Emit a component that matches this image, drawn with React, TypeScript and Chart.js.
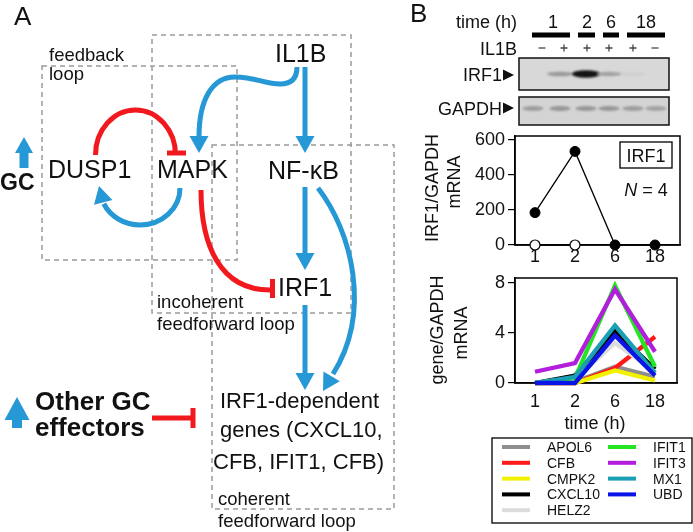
import React, { useEffect, useRef } from 'react';
import { Chart, registerables } from 'chart.js';
Chart.register(...registerables);

const FONT = '"Liberation Sans", Arial, Helvetica, sans-serif';

// ---------------- data ----------------
const timeLabels = ['1', '2', '6', '18'];
const irf1WithIL1B = [185, 535, 0, 0];
const irf1Control = [0, 0];
const irf1Ticks = [0, 200, 400, 600];
const irf1N = 4;

const geneNames = ['APOL6', 'CFB', 'CMPK2', 'CXCL10', 'HELZ2', 'IFIT1', 'IFIT3', 'MX1', 'UBD'];
const geneColors = ['#8e8e8e', '#ff1a1a', '#f2f200', '#000000', '#dcdcdc', '#22e622', '#b21fdc', '#1b9fb5', '#0a14e6'];
const apol6 = [0, 0.1, 1.3, 0.5];
const cfb = [0, 0, 1.2, 3.7];
const cmpk2 = [0, 0, 1.0, 0.2];
const cxcl10 = [0, 0.6, 4.2, 1.1];
const helz2 = [0, 0.3, 3.2, 0.9];
const ifit1 = [0, 0.4, 7.8, 1.3];
const ifit3 = [0.9, 1.6, 7.5, 2.5];
const mx1 = [0, 0.5, 4.6, 0.8];
const ubd = [0, 0, 3.8, 0.6];
const geneSeries = [apol6, cfb, cmpk2, cxcl10, helz2, ifit1, ifit3, mx1, ubd];
const geneTicks = [0, 4, 8];

const blotTimes = ['1', '2', '6', '18'];
const blotIL1B = ['-', '+', '+', '+', '+', '-'];
const irf1BandIntensity = [0, 0.32, 1, 0.28, 0.05, 0];
const gapdhBandIntensity = [0.55, 0.6, 0.6, 0.6, 0.55, 0.5];

// ---------------- drawing helpers ----------------
const BLUE = '#2798d6';
const RED = '#f2191e';

type TxtOpts = { bold?: boolean; italic?: boolean; align?: CanvasTextAlign; color?: string };
function txt(ctx: CanvasRenderingContext2D, s: string, x: number, y: number, size: number, o: TxtOpts = {}) {
  ctx.font = `${o.italic ? 'italic ' : ''}${o.bold ? 'bold ' : ''}${size}px ${FONT}`;
  ctx.fillStyle = o.color || '#111';
  ctx.textAlign = o.align || 'left';
  ctx.textBaseline = 'alphabetic';
  ctx.fillText(s, x, y);
}

function head(ctx: CanvasRenderingContext2D, tx: number, ty: number, ang: number, len = 17, w = 19, color = BLUE) {
  ctx.save();
  ctx.translate(tx, ty);
  ctx.rotate(ang);
  ctx.beginPath();
  ctx.moveTo(0, 0);
  ctx.lineTo(-len, -w / 2);
  ctx.lineTo(-len, w / 2);
  ctx.closePath();
  ctx.fillStyle = color;
  ctx.fill();
  ctx.restore();
}

function upArrow(ctx: CanvasRenderingContext2D, cx: number, tipY: number, baseY: number, halfW: number, stemHalf: number, stemBottom: number) {
  ctx.beginPath();
  ctx.moveTo(cx, tipY);
  ctx.lineTo(cx + halfW, baseY);
  ctx.lineTo(cx + stemHalf, baseY);
  ctx.lineTo(cx + stemHalf, stemBottom);
  ctx.lineTo(cx - stemHalf, stemBottom);
  ctx.lineTo(cx - stemHalf, baseY);
  ctx.lineTo(cx - halfW, baseY);
  ctx.closePath();
  ctx.fillStyle = BLUE;
  ctx.fill();
}

function dashedBox(ctx: CanvasRenderingContext2D, x0: number, y0: number, x1: number, y1: number) {
  ctx.save();
  ctx.strokeStyle = '#9a9a9a';
  ctx.lineWidth = 1.5;
  ctx.setLineDash([5, 4]);
  ctx.strokeRect(x0, y0, x1 - x0, y1 - y0);
  ctx.restore();
}

function drawPanelA(ctx: CanvasRenderingContext2D) {
  txt(ctx, 'A', 14, 25, 26);

  dashedBox(ctx, 42, 66, 237, 260);
  dashedBox(ctx, 152, 35, 351, 313);
  dashedBox(ctx, 212, 145, 394, 509);

  txt(ctx, 'feedback', 49, 61, 18.5);
  txt(ctx, 'loop', 49, 80, 18.5);

  txt(ctx, 'IL1B', 275, 62, 25);
  txt(ctx, 'DUSP1', 48, 178, 25);
  txt(ctx, 'MAPK', 157, 178, 25);
  txt(ctx, 'NF-\u03BAB', 268, 179, 25);
  txt(ctx, 'IRF1', 278, 296, 25);

  txt(ctx, 'incoherent', 157, 308, 18.5);
  txt(ctx, 'feedforward loop', 157, 330, 18.5);

  txt(ctx, 'IRF1-dependent', 220, 408, 22);
  txt(ctx, 'genes (CXCL10,', 220, 437, 22);
  txt(ctx, 'CFB, IFIT1, CFB)', 213, 469, 22);
  txt(ctx, 'coherent', 218, 505, 18.5);
  txt(ctx, 'feedforward loop', 218, 527, 18.5);

  txt(ctx, 'GC', 0, 190, 23, { bold: true });
  upArrow(ctx, 24, 137, 153, 9, 4.5, 168);

  txt(ctx, 'Other GC', 35, 410, 26, { bold: true });
  txt(ctx, 'effectors', 35, 436, 26, { bold: true });
  upArrow(ctx, 17, 397, 420, 12.5, 5, 428);

  ctx.save();
  ctx.lineCap = 'butt';
  ctx.lineWidth = 5;

  // red DUSP1 -| MAPK
  ctx.strokeStyle = RED;
  ctx.beginPath();
  ctx.ellipse(135.5, 155, 40, 45, 0, Math.PI, 2 * Math.PI);
  ctx.stroke();
  ctx.beginPath();
  ctx.moveTo(167, 153);
  ctx.lineTo(186, 153);
  ctx.stroke();

  // red MAPK -| IRF1
  ctx.beginPath();
  ctx.moveTo(201, 190);
  ctx.bezierCurveTo(201, 245, 220, 290, 270, 290);
  ctx.stroke();
  ctx.beginPath();
  ctx.moveTo(272.5, 279);
  ctx.lineTo(272.5, 298);
  ctx.stroke();

  // red other GC effectors -| genes
  ctx.beginPath();
  ctx.moveTo(152, 418);
  ctx.lineTo(193, 418);
  ctx.stroke();
  ctx.beginPath();
  ctx.moveTo(193, 408);
  ctx.lineTo(193, 428);
  ctx.stroke();

  // blue MAPK -> DUSP1
  ctx.strokeStyle = BLUE;
  ctx.beginPath();
  ctx.ellipse(140, 188, 40, 37, 0, 0, Math.PI * 0.86);
  ctx.stroke();
  head(ctx, 99, 186, -Math.PI * 0.58);

  // blue IL1B -> MAPK
  ctx.beginPath();
  ctx.moveTo(297, 67);
  ctx.quadraticCurveTo(297, 84, 280, 84);
  ctx.bezierCurveTo(265, 84, 255, 77, 235, 77);
  ctx.bezierCurveTo(212, 77, 199, 100, 199, 137);
  ctx.stroke();
  head(ctx, 199, 153, Math.PI / 2);

  // blue IL1B -> NF-kB
  ctx.beginPath();
  ctx.moveTo(305, 67);
  ctx.lineTo(305, 137);
  ctx.stroke();
  head(ctx, 305, 153, Math.PI / 2);

  // NF-kB -> IRF1
  ctx.beginPath();
  ctx.moveTo(305, 187);
  ctx.lineTo(305, 254);
  ctx.stroke();
  head(ctx, 305, 270, Math.PI / 2);

  // IRF1 -> genes
  ctx.beginPath();
  ctx.moveTo(305, 305);
  ctx.lineTo(305, 374);
  ctx.stroke();
  head(ctx, 305, 390, Math.PI / 2);

  // NF-kB -> genes (curved)
  ctx.beginPath();
  ctx.moveTo(318, 188);
  ctx.bezierCurveTo(352, 232, 372, 312, 333, 374);
  ctx.stroke();
  head(ctx, 323, 391, Math.atan2(391 - 374, 323 - 333));
  ctx.restore();
}

function drawBlot(ctx: CanvasRenderingContext2D) {
  txt(ctx, 'B', 410, 22, 26);
  txt(ctx, 'time (h)', 517, 28, 18, { align: 'right' });
  const groupX = [553, 587, 611, 646];
  blotTimes.forEach((t, i) => txt(ctx, t, groupX[i], 28, 18, { align: 'center' }));
  const bars = [[532, 570], [578, 595], [603, 619], [627, 665]];
  ctx.fillStyle = '#000';
  bars.forEach(([a, b]) => ctx.fillRect(a, 32.5, b - a, 5));

  txt(ctx, 'IL1B', 517, 55, 18, { align: 'right' });
  const signX = [542, 564, 587, 609, 633, 655];
  ctx.save();
  ctx.strokeStyle = '#444';
  ctx.lineWidth = 1.3;
  blotIL1B.forEach((s, i) => {
    const x = signX[i];
    ctx.beginPath();
    ctx.moveTo(x - 3.5, 48);
    ctx.lineTo(x + 3.5, 48);
    if (s === '+') {
      ctx.moveTo(x, 44.5);
      ctx.lineTo(x, 51.5);
    }
    ctx.stroke();
  });
  ctx.restore();

  const laneX = [533, 560, 586, 609, 633, 656];
  // IRF1 blot
  ctx.save();
  ctx.fillStyle = '#d8d8d8';
  ctx.fillRect(519, 58, 150, 32);
  ctx.filter = 'blur(1.2px)';
  irf1BandIntensity.forEach((v, i) => {
    if (v <= 0) return;
    const g = Math.round(216 - v * 196);
    ctx.fillStyle = `rgb(${g},${g},${g})`;
    ctx.beginPath();
    ctx.ellipse(laneX[i], 74, 12 + v * 2, 1.6 + v * 2.2, 0, 0, Math.PI * 2);
    ctx.fill();
  });
  ctx.filter = 'none';
  ctx.strokeStyle = '#111';
  ctx.lineWidth = 1.5;
  ctx.strokeRect(519, 58, 150, 32);

  // GAPDH blot
  ctx.fillStyle = '#d4d4d4';
  ctx.fillRect(519, 97, 150, 28);
  ctx.filter = 'blur(1px)';
  gapdhBandIntensity.forEach((v, i) => {
    const g = Math.round(216 - v * 110);
    ctx.fillStyle = `rgb(${g},${g},${g})`;
    ctx.beginPath();
    ctx.ellipse(laneX[i], 108.5, 10.5, 2.6, 0, 0, Math.PI * 2);
    ctx.fill();
  });
  ctx.filter = 'none';
  ctx.strokeRect(519, 97, 150, 28);
  ctx.restore();

  txt(ctx, 'IRF1', 502, 81, 18, { align: 'right' });
  txt(ctx, 'GAPDH', 502, 115, 18, { align: 'right' });
  ctx.fillStyle = '#111';
  [[75], [108]].forEach(([cy]) => {
    ctx.beginPath();
    ctx.moveTo(503, cy - 5.5);
    ctx.lineTo(514, cy);
    ctx.lineTo(503, cy + 5.5);
    ctx.closePath();
    ctx.fill();
  });
}

function rotText(ctx: CanvasRenderingContext2D, s: string, cx: number, cy: number, size: number) {
  ctx.save();
  ctx.translate(cx, cy);
  ctx.rotate(-Math.PI / 2);
  ctx.font = `${size}px ${FONT}`;
  ctx.fillStyle = '#111';
  ctx.textAlign = 'center';
  ctx.textBaseline = 'middle';
  ctx.fillText(s, 0, 0);
  ctx.restore();
}

const boxPlugin = {
  id: 'boxFrame',
  beforeDatasetsDraw(chart: any) {
    const { ctx, chartArea: a } = chart;
    ctx.save();
    ctx.strokeStyle = '#000';
    ctx.lineWidth = 1.5;
    ctx.strokeRect(a.left, a.top, a.right - a.left, a.bottom - a.top);
    ctx.restore();
  },
};

function noPad(s: any) {
  s.paddingTop = 0;
  s.paddingBottom = 0;
  s.paddingLeft = 0;
  s.paddingRight = 0;
}

function xScale(max: number, height: number, pad: number) {
  return {
    type: 'linear' as const,
    min: -0.5,
    max,
    afterBuildTicks: (s: any) => {
      s.ticks = timeLabels.map((_, i) => ({ value: i }));
    },
    afterFit: (s: any) => {
      s.height = height;
      noPad(s);
    },
    ticks: {
      callback: (v: any) => timeLabels[Math.round(Number(v))] ?? '',
      font: { size: 18, family: FONT },
      color: '#111',
      padding: pad,
      maxRotation: 0,
      autoSkip: false,
    },
    grid: { display: false, drawTicks: false },
    border: { display: true, color: '#000', width: 1.5 },
  };
}

function yScale(max: number, ticks: number[]) {
  return {
    min: 0,
    max,
    afterBuildTicks: (s: any) => {
      s.ticks = ticks.map((v) => ({ value: v }));
    },
    afterFit: (s: any) => {
      s.width = 95;
      noPad(s);
    },
    ticks: { font: { size: 18, family: FONT }, color: '#111', padding: 3 },
    grid: { drawOnChartArea: false, drawTicks: true, tickLength: 7, color: '#000', lineWidth: 1.2 },
    border: { display: true, color: '#000', width: 1.5 },
  };
}

export default function App() {
  const bgRef = useRef<HTMLCanvasElement>(null);
  const c1Ref = useRef<HTMLCanvasElement>(null);
  const c2Ref = useRef<HTMLCanvasElement>(null);

  useEffect(() => {
    const charts: Chart[] = [];

    charts.push(
      new Chart(bgRef.current!, {
        type: 'line',
        data: { datasets: [] },
        options: {
          animation: false,
          responsive: false,
          events: [],
          plugins: { legend: { display: false }, tooltip: { enabled: false } },
          scales: { x: { display: false }, y: { display: false } },
        },
        plugins: [
          {
            id: 'diagram',
            afterDraw(chart: any) {
              const ctx = chart.ctx as CanvasRenderingContext2D;
              ctx.save();
              drawPanelA(ctx);
              drawBlot(ctx);
              ctx.restore();
            },
          },
        ],
      } as any)
    );

    charts.push(
      new Chart(c1Ref.current!, {
        type: 'line',
        data: {
          datasets: [
            {
              label: '+IL1B',
              data: irf1WithIL1B.map((y, i) => ({ x: i, y })),
              borderColor: '#000',
              borderWidth: 1.3,
              pointRadius: 5,
              pointBorderWidth: 1,
              pointBackgroundColor: '#000',
              pointBorderColor: '#000',
              clip: false,
              order: 2,
            },
            {
              label: 'control',
              data: irf1Control.map((y, i) => ({ x: i, y })),
              borderColor: '#000',
              borderWidth: 1.3,
              pointRadius: 5,
              pointBorderWidth: 1.2,
              pointBackgroundColor: '#fff',
              pointBorderColor: '#000',
              clip: false,
              order: 1,
            },
          ],
        },
        options: {
          animation: false,
          responsive: false,
          events: [],
          layout: { padding: { left: 0, right: 13, top: 11, bottom: 0 } },
          plugins: { legend: { display: false }, tooltip: { enabled: false } },
          scales: { x: xScale(3.625, 25, 1), y: yScale(623, irf1Ticks) },
        },
        plugins: [
          boxPlugin,
          {
            id: 'irf1Deco',
            afterDraw(chart: any) {
              const ctx = chart.ctx as CanvasRenderingContext2D;
              rotText(ctx, 'IRF1/GAPDH', 13, 63, 18);
              rotText(ctx, 'mRNA', 35, 57, 18);
              ctx.save();
              ctx.strokeStyle = '#000';
              ctx.lineWidth = 1.3;
              ctx.strokeRect(200, 17, 52, 26);
              ctx.restore();
              txt(ctx, 'IRF1', 226, 36.5, 18, { align: 'center' });
              ctx.font = `italic 18px ${FONT}`;
              const nW = ctx.measureText('N').width;
              ctx.font = `18px ${FONT}`;
              const restW = ctx.measureText(` = ${irf1N}`).width;
              const startX = 226 - (nW + restW) / 2;
              txt(ctx, 'N', startX, 71, 18, { italic: true });
              txt(ctx, ` = ${irf1N}`, startX + nW, 71, 18);
            },
          },
        ],
      } as any)
    );

    const n = geneNames.length;
    charts.push(
      new Chart(c2Ref.current!, {
        type: 'line',
        data: {
          datasets: geneNames.map((name, gi) => ({
            label: name,
            data: geneSeries[gi].map((y, i) => ({ x: i, y })),
            borderColor: geneColors[gi],
            borderWidth: 4.3,
            pointRadius: 0,
            tension: 0,
            clip: false,
            order: n - gi,
          })),
        },
        options: {
          animation: false,
          responsive: false,
          events: [],
          layout: { padding: { left: 0, right: 16, top: 10, bottom: 114 } },
          plugins: { legend: { display: false }, tooltip: { enabled: false } },
          scales: { x: xScale(3.55, 35, 8), y: yScale(8.4, geneTicks) },
        },
        plugins: [
          boxPlugin,
          {
            id: 'geneDeco',
            afterDraw(chart: any) {
              const ctx = chart.ctx as CanvasRenderingContext2D;
              rotText(ctx, 'gene/GAPDH', 18, 62, 18);
              rotText(ctx, 'mRNA', 42, 65, 18);
              txt(ctx, 'time (h)', 175, 161, 18, { align: 'center' });
              // legend
              ctx.save();
              ctx.strokeStyle = '#000';
              ctx.lineWidth = 1.3;
              ctx.strokeRect(72, 170, 200, 85);
              const ds = chart.data.datasets;
              ds.forEach((d: any, i: number) => {
                const col = i < 5 ? 0 : 1;
                const row = i < 5 ? i : i - 5;
                const y = 179 + row * 15.8;
                const lx = col === 0 ? 82 : 188;
                const tx = col === 0 ? 127 : 233;
                ctx.strokeStyle = d.borderColor;
                ctx.lineWidth = 4;
                ctx.beginPath();
                ctx.moveTo(lx, y);
                ctx.lineTo(lx + 28, y);
                ctx.stroke();
                txt(ctx, d.label, tx, y + 5, 14);
              });
              ctx.restore();
            },
          },
        ],
      } as any)
    );

    return () => charts.forEach((c) => c.destroy());
  }, []);

  return (
    <div style={{ position: 'absolute', left: 0, top: 0, width: 693, height: 532, background: '#fff', overflow: 'hidden' }}>
      <canvas ref={bgRef} width={693} height={532} style={{ position: 'absolute', left: 0, top: 0 }} />
      <canvas ref={c1Ref} width={273} height={145} style={{ position: 'absolute', left: 420, top: 125 }} />
      <canvas ref={c2Ref} width={273} height={264} style={{ position: 'absolute', left: 420, top: 268 }} />
    </div>
  );
}
